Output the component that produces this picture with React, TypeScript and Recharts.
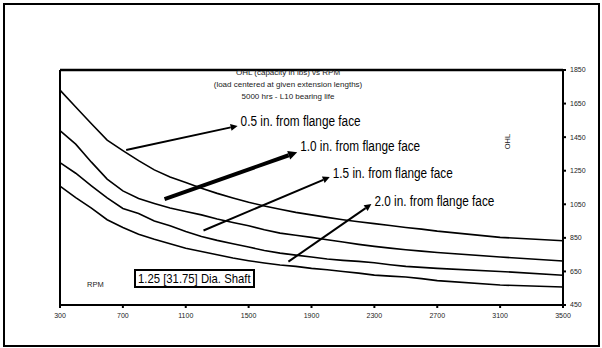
import { LineChart, Line, XAxis, YAxis, ReferenceLine } from 'recharts'

// RPM sample points
const RPM = [
  300, 400, 500, 600, 700, 800, 900, 1000, 1100, 1200, 1300, 1400, 1500, 1600,
  1700, 1800, 1900, 2000, 2100, 2200, 2300, 2400, 2500, 2600, 2700, 3100, 3500,
]

// OHL capacity (lbs) by extension length
const OHL_05 = [
  1730, 1630, 1530, 1432, 1370, 1310, 1255, 1212, 1180, 1145, 1115, 1088, 1062, 1040,
  1020, 1002, 987, 972, 958, 946, 935, 924, 912, 902, 890, 853, 833,
]
const OHL_10 = [
  1489, 1408, 1301, 1200, 1130, 1084, 1055, 1028, 1007, 987, 962, 942, 922, 898,
  878, 866, 853, 839, 825, 811, 799, 789, 779, 771, 763, 736, 712,
]
const OHL_15 = [
  1298, 1235, 1160, 1088, 1025, 995, 950, 922, 888, 858, 835, 815, 795, 775,
  759, 747, 736, 724, 716, 710, 702, 690, 680, 674, 668, 650, 627,
]
const OHL_20 = [
  1158, 1090, 1027, 958, 912, 872, 842, 815, 788, 769, 749, 730, 714, 700,
  688, 680, 668, 660, 650, 640, 628, 622, 617, 607, 595, 569, 557,
]

const X_TICKS = [300, 700, 1100, 1500, 1900, 2300, 2700, 3100, 3500]
const Y_TICKS = [450, 650, 850, 1050, 1250, 1450, 1650, 1850]

// arrow annotations, ends given as [rpm, ohl]
const ARROWS = [
  { label: '0.5 in. from flange face', from: [721, 1374], to: [1430, 1517], w: 2, dy: -5 },
  { label: '1.0 in. from flange face', from: [965, 1081], to: [1809, 1360], w: 4, dy: -6 },
  { label: '1.5 in. from flange face', from: [1213, 894], to: [2016, 1212], w: 2, dy: -4 },
  { label: '2.0 in. from flange face', from: [1753, 708], to: [2281, 1051], w: 2, dy: -3 },
]

const data = RPM.map((r, i) => ({
  rpm: r,
  a: OHL_05[i],
  b: OHL_10[i],
  c: OHL_15[i],
  d: OHL_20[i],
}))

const FONT = '"Liberation Sans", Arial, sans-serif'

const arrowShape = (label: string, w: number, dy: number) => (props: any) => {
  const { x1, y1, x2, y2 } = props
  const ang = Math.atan2(y2 - y1, x2 - x1)
  const len = w > 3 ? 9 : 7
  const half = w > 3 ? 4.5 : 3.5
  const bx = x2 - len * Math.cos(ang)
  const by = y2 - len * Math.sin(ang)
  const px = -Math.sin(ang) * half
  const py = Math.cos(ang) * half
  return (
    <g>
      <line x1={x1} y1={y1} x2={bx} y2={by} stroke="#000" strokeWidth={w} />
      <polygon points={`${x2},${y2} ${bx + px},${by + py} ${bx - px},${by - py}`} fill="#000" />
      <text
        x={x2 + 3}
        y={y2 + dy}
        dominantBaseline="central"
        fontSize={14}
        fontFamily={FONT}
        fill="#000"
        textLength={120}
        lengthAdjust="spacingAndGlyphs"
      >
        {label}
      </text>
    </g>
  )
}

const small = { fontSize: 7, fontFamily: FONT, fill: '#222' }

export default function App() {
  return (
    <div style={{ position: 'absolute', left: 0, top: 0, width: 602, height: 348, background: '#fff' }}>
      <div
        style={{
          position: 'absolute', left: 3, top: 3, width: 597, height: 344,
          border: '2px solid #000', boxSizing: 'border-box',
        }}
      />
      <LineChart width={602} height={348} data={data} margin={{ top: 70, right: 4, bottom: 23, left: 60 }}>
        <XAxis
          dataKey="rpm"
          type="number"
          domain={[300, 3500]}
          ticks={X_TICKS}
          height={20}
          axisLine={{ stroke: '#000', strokeWidth: 2 }}
          tickLine={{ stroke: '#000', strokeWidth: 2 }}
          tickSize={3}
          tickMargin={5}
          tick={small}
        />
        <YAxis
          orientation="right"
          type="number"
          domain={[450, 1850]}
          ticks={Y_TICKS}
          width={35}
          axisLine={{ stroke: '#000', strokeWidth: 2 }}
          tickLine={{ stroke: '#000', strokeWidth: 2 }}
          tickSize={3}
          tickMargin={4}
          tick={{ ...small, textAnchor: 'start' }}
        />
        <ReferenceLine y={1850} stroke="#000" strokeWidth={2.5} />
        <ReferenceLine x={300} stroke="#000" strokeWidth={2} />
        <Line dataKey="a" type="linear" stroke="#000" strokeWidth={1.6} dot={false} isAnimationActive={false} />
        <Line dataKey="b" type="linear" stroke="#000" strokeWidth={1.6} dot={false} isAnimationActive={false} />
        <Line dataKey="c" type="linear" stroke="#000" strokeWidth={1.6} dot={false} isAnimationActive={false} />
        <Line dataKey="d" type="linear" stroke="#000" strokeWidth={1.6} dot={false} isAnimationActive={false} />
        {ARROWS.map((a) => (
          <ReferenceLine
            key={a.label}
            segment={[{ x: a.from[0], y: a.from[1] }, { x: a.to[0], y: a.to[1] }]}
            shape={arrowShape(a.label, a.w, a.dy)}
          />
        ))}
      </LineChart>

      {/* title block */}
      <div
        style={{
          position: 'absolute', left: 188, top: 67, width: 200, textAlign: 'center',
          fontFamily: FONT, fontSize: 8, lineHeight: '12px', color: '#222', whiteSpace: 'nowrap',
        }}
      >
        <div>OHL (capacity in lbs) vs RPM</div>
        <div>(load centered at given extension lengths)</div>
        <div>5000 hrs - L10 bearing life</div>
      </div>

      <div style={{ position: 'absolute', left: 87, top: 280, fontFamily: FONT, fontSize: 7.5, color: '#222' }}>RPM</div>

      <div
        style={{
          position: 'absolute', left: 500, top: 137, fontFamily: FONT, fontSize: 7.5, color: '#222',
          transform: 'rotate(-90deg)', transformOrigin: 'center',
        }}
      >
        OHL
      </div>

      <div
        style={{
          position: 'absolute', left: 134, top: 269, width: 121, height: 19, boxSizing: 'border-box',
          border: '2px solid #000', background: '#fff', fontFamily: FONT, fontSize: 13, lineHeight: '15px',
          color: '#000', whiteSpace: 'nowrap', overflow: 'visible',
        }}
      >
        <div style={{ transform: 'scaleX(0.87)', transformOrigin: '0 0', marginLeft: 2 }}>
          1.25 [31.75] Dia. Shaft
        </div>
      </div>
    </div>
  )
}
